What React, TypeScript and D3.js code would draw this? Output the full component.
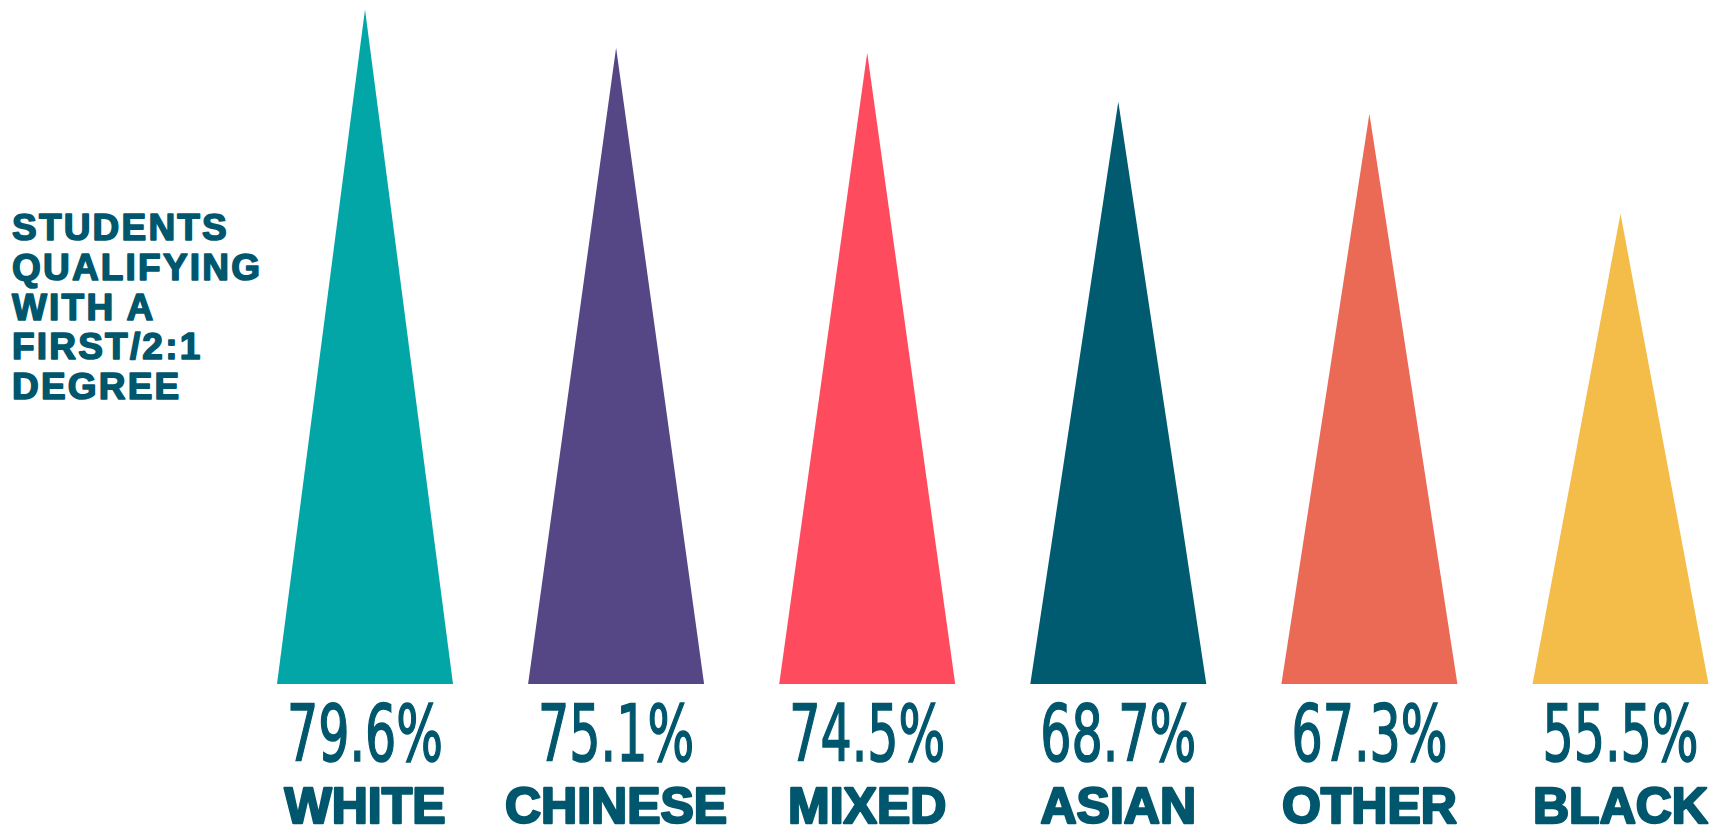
import React from "react";
import * as d3 from "d3";

const categories = ["WHITE", "CHINESE", "MIXED", "ASIAN", "OTHER", "BLACK"];
const values = [79.6, 75.1, 74.5, 68.7, 67.3, 55.5];
const colors = ["#03A6A7", "#554685", "#FF4B5E", "#005A70", "#EB6A55", "#F4BD4A"];
const titleLines = ["STUDENTS", "QUALIFYING", "WITH A", "FIRST/2:1", "DEGREE"];

const W = 1715;
const H = 827;
const TEXT = "#00576D";

export default function App() {
  const baseY = 684;
  const x = d3.scalePoint<string>().domain(categories).range([365, 1620.5]);
  const y = d3.scaleLinear().domain([0, 79.6]).range([baseY, 9.5]);
  const halfW = 88;
  const fmt = (v: number) => d3.format(".1f")(v) + "%";

  return (
    <svg
      width={W}
      height={H}
      style={{ position: "absolute", left: 0, top: 0, background: "#fff" }}
    >
      <g>
        {titleLines.map((t, i) => (
          <text
            key={t}
            x={12}
            y={240 + i * 39.8}
            fill={TEXT}
            stroke={TEXT}
            strokeWidth={1.6}
            strokeLinejoin="round"
            fontFamily="'Liberation Sans', Arial, sans-serif"
            fontWeight={700}
            fontSize={37}
            letterSpacing={2.2}
          >
            {t}
          </text>
        ))}
      </g>
      {categories.map((c, i) => {
        const cx = x(c)!;
        const top = y(values[i]);
        const path = d3.path();
        path.moveTo(cx - halfW, baseY);
        path.lineTo(cx, top);
        path.lineTo(cx + halfW, baseY);
        path.closePath();
        return (
          <g key={c}>
            <path d={path.toString()} fill={colors[i]} />
            <text
              x={cx}
              y={761}
              textAnchor="middle"
              fill={TEXT}
              stroke={TEXT}
              strokeWidth={1.6}
              fontFamily="'Liberation Sans Narrow', 'DejaVu Sans Condensed', Roboto, sans-serif"
              fontSize={79}
              textLength={156}
              lengthAdjust="spacingAndGlyphs"
            >
              {fmt(values[i])}
            </text>
            <text
              x={cx}
              y={823}
              textAnchor="middle"
              fill={TEXT}
              stroke={TEXT}
              strokeWidth={2.4}
              strokeLinejoin="round"
              fontFamily="'Liberation Sans', Arial, sans-serif"
              fontWeight={700}
              fontSize={50}
            >
              {c}
            </text>
          </g>
        );
      })}
    </svg>
  );
}
